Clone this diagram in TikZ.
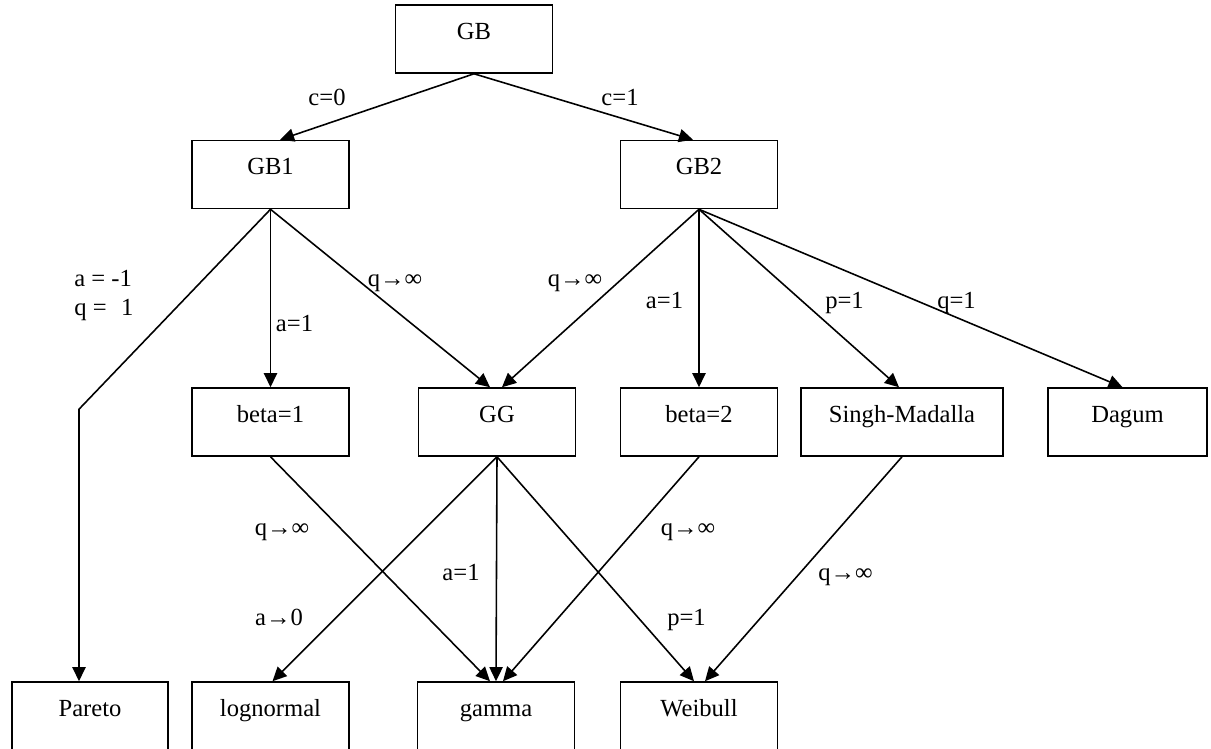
\documentclass[tikz,border=0pt]{standalone}
\usepackage{fontspec}
\setmainfont{Liberation Serif}
\usepackage{tikz}
\usetikzlibrary{calc, arrows.meta}
\tikzstyle{distbox} = [rectangle, draw, line width=0.9pt, minimum width=3.14cm, inner sep=0pt, text height=0.68cm, text depth=0.68cm]
\tikzstyle{cond} = [anchor=base, inner sep=0pt]
\tikzstyle{link} = [line width=0.9pt, -{Triangle[length=8pt, width=7.5pt]}]

\begin{document}
\begin{tikzpicture}[x=0.02cm, y=-0.02cm, font=\fontsize{14pt}{16.4pt}\selectfont]
        \useasboundingbox (0, 0) rectangle (1211, 748);
        \clip (0, 0) rectangle (1211, 748);
        % families
        \node[distbox] at (474, 39) (GB) {GB};
        \node[distbox] at (270.5, 174.5) (GB1) {GB1};
        \node[distbox] at (699, 174.5) (GB2) {GB2};
        \node[distbox] at (270.5, 422) (beta1) {beta=1};
        \node[distbox] at (497, 422) (GG) {GG};
        \node[distbox] at (699, 422) (beta2) {beta=2};
        \node[distbox, minimum width=4.04cm] at (902, 422) (SM) {Singh-Madalla};
        \node[distbox, minimum width=3.18cm] at (1127.5, 422) (Dagum) {Dagum};
        \node[distbox, minimum width=3.12cm] at (90, 716) (Pareto) {Pareto};
        \node[distbox] at (270.5, 716) (lognormal) {lognormal};
        \node[distbox] at (496, 716) (gamma) {gamma};
        \node[distbox] at (699, 716) (Weibull) {Weibull};

        % limits
        \draw[link] (GB.south) -- ($(GB1.north)+(9.5, 0)$);
        \draw[link] (GB.south) -- ($(GB2.north)+(-6, 0)$);
        \draw[link] (GB1.south) -- ($(Pareto.north)+(-11, -272)$) -- ($(Pareto.north)+(-11, 0)$);
        \draw[link] (GB1.south) -- (beta1.north);
        \draw[link] (GB1.south) -- ($(GG.north)+(-7, 0)$);
        \draw[link] (GB2.south) -- ($(GG.north)+(5, 0)$);
        \draw[link] (GB2.south) -- (beta2.north);
        \draw[link] (GB2.south) -- ($(SM.north)+(-3, 0)$);
        \draw[link] (GB2.south) -- ($(Dagum.north)+(-5, 0)$);
        \draw[link] (beta1.south) -- ($(gamma.north)+(-6, 0)$);
        \draw[link] (GG.south) -- ($(lognormal.north)+(2, 0)$);
        \draw[link] (GG.south) -- (gamma.north);
        \draw[link] (beta2.south) -- ($(gamma.north)+(7, 0)$);
        \draw[link] (GG.south) -- ($(Weibull.north)+(-5, 0)$);
        \draw[link] (SM.south) -- ($(Weibull.north)+(6, 0)$);

        % parameter values
        \node[cond] at (327, 105) (cZero) {c=0};
        \node[cond] at (620, 105) (cOne) {c=1};
        \node[anchor=west, inner sep=0pt, align=left] at (74, 295.5) (aqPareto) {a = -1\\q = \phantom{-}1};
        \node[cond] at (395, 286) (qGBoneGG) {q→∞};
        \node[cond] at (294.5, 331) (aBetaOne) {a=1};
        \node[cond] at (575, 286) (qGBtwoGG) {q→∞};
        \node[cond] at (664.5, 308) (aBetaTwo) {a=1};
        \node[cond] at (844.5, 308) (pSM) {p=1};
        \node[cond] at (956.5, 308) (qDagum) {q=1};
        \node[cond] at (282, 535) (qBetaOneGamma) {q→∞};
        \node[cond] at (279, 625) (aLognormal) {a→0};
        \node[cond] at (461, 580) (aGamma) {a=1};
        \node[cond] at (688, 535) (qBetaTwoGamma) {q→∞};
        \node[cond] at (686.5, 625) (pWeibull) {p=1};
        \node[cond] at (845.5, 580) (qSMWeibull) {q→∞};
    \end{tikzpicture}
\end{document}
